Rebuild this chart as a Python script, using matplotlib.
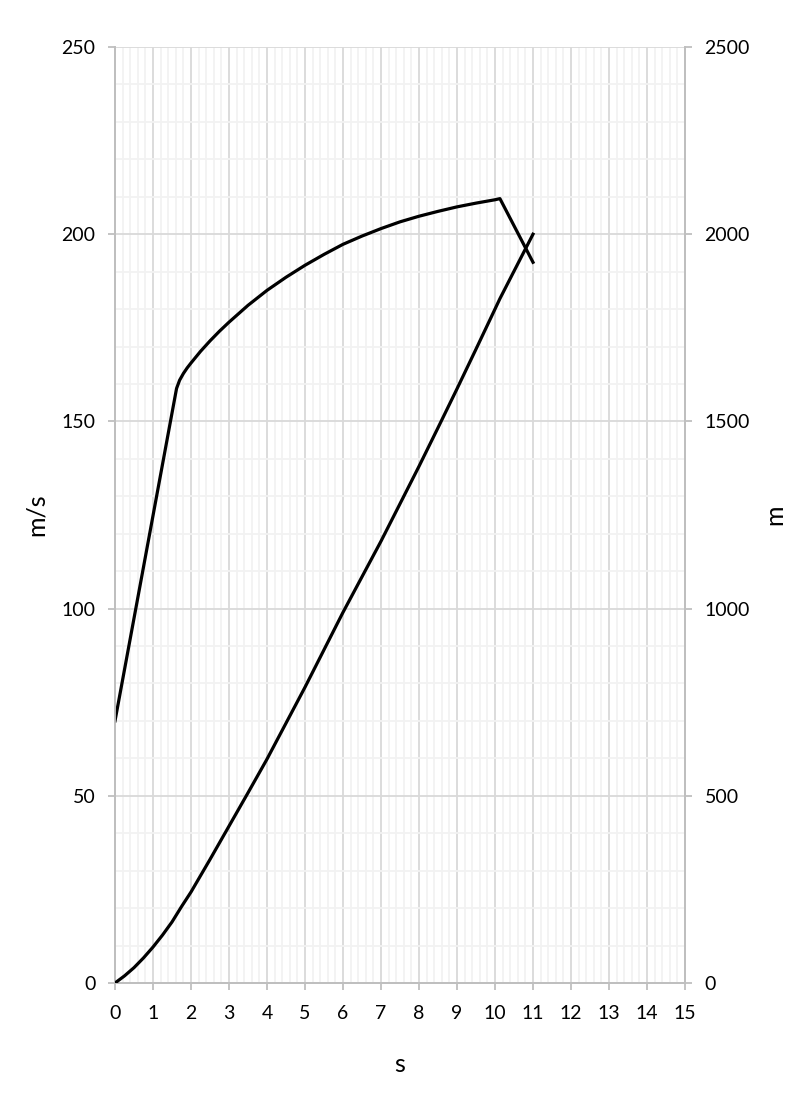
import matplotlib
matplotlib.use("Agg")
import matplotlib.pyplot as plt
from matplotlib.ticker import MultipleLocator

plt.rcParams['font.family'] = ['Lato', 'DejaVu Sans']

# velocity curve (left axis, m/s)
t_vel = [0, 1.62, 1.7, 1.8, 1.9, 2.0, 2.25, 2.5, 2.75, 3.0, 3.5, 4.0, 4.5, 5.0, 5.5, 6.0, 6.5, 7.0, 7.5, 8.0,
         8.5, 9.0, 9.5, 10.0, 10.13, 11.0]
velocity = [70, 158.8, 161, 162.8, 164.3, 165.6, 168.7, 171.5, 174.1, 176.5, 181, 185, 188.5, 191.7, 194.6, 197.3,
            199.5, 201.5, 203.3, 204.8, 206.1, 207.3, 208.3, 209.2, 209.5, 192.5]

# distance curve (right axis, m)
t_dist = [0, 0.25, 0.5, 0.75, 1.0, 1.25, 1.5, 1.75, 2.0, 2.5, 3.0, 3.5, 4.0, 4.5, 5.0, 5.5, 6.0, 6.5, 7.0, 7.5,
          8.0, 8.5, 9.0, 9.5, 10.0, 10.13, 11.0]
distance = [0, 19, 41, 67, 96, 128, 163, 204, 243, 330, 419, 508, 598, 694, 790, 890, 990, 1085, 1180, 1280,
            1380, 1483, 1587, 1693, 1800, 1828, 2000]

grid_major = '#d9d9d9'
grid_minor = '#f2f2f2'
axis_col = '#bfbfbf'

fig = plt.figure(figsize=(8.03, 11.01), dpi=100)
ax1 = fig.add_axes([115/803, 1 - 983/1101, 570/803, 936/1101])
ax2 = ax1.twinx()

ax1.plot(t_vel, velocity, color='black', lw=2.3, zorder=3)
ax2.plot(t_dist, distance, color='black', lw=2.3, zorder=3)

ax1.set_xlim(0, 15)
ax1.set_ylim(0, 250)
ax2.set_ylim(0, 2500)

ax1.xaxis.set_major_locator(MultipleLocator(1))
ax1.xaxis.set_minor_locator(MultipleLocator(0.2))
ax1.yaxis.set_major_locator(MultipleLocator(50))
ax1.yaxis.set_minor_locator(MultipleLocator(10))
ax2.yaxis.set_major_locator(MultipleLocator(500))

ax1.grid(which='major', color=grid_major, lw=1.3)
ax1.grid(which='minor', color=grid_minor, lw=1.3)
ax1.set_axisbelow(True)

for ax in (ax1, ax2):
    for side in ('left', 'right', 'bottom'):
        ax.spines[side].set_color(axis_col)
        ax.spines[side].set_linewidth(1.3)
    ax.spines['top'].set_visible(False)

ax1.tick_params(axis='y', which='major', length=5, width=1.3, color=axis_col, labelsize=14, pad=9)
ax1.tick_params(axis='x', which='major', length=5, width=1.3, color=axis_col, labelsize=14, pad=11)
ax1.tick_params(which='minor', length=0)
ax2.tick_params(which='major', length=5, width=1.3, color=axis_col, labelsize=14, pad=9)
ax2.tick_params(which='minor', length=0)

ax1.set_xlabel('s', fontsize=18, labelpad=22)
ax1.set_ylabel('m/s', fontsize=18, labelpad=10)
ax2.set_ylabel('m', fontsize=18, labelpad=10)

fig.savefig('out.png', dpi=100)
